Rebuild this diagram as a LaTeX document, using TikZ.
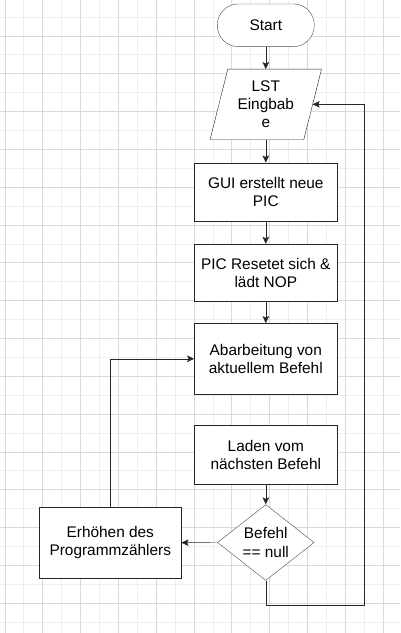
\documentclass[tikz,border=0pt]{standalone}
\usepackage{fontspec}
\setmainfont{Liberation Sans}
\usetikzlibrary{shapes.geometric,arrows.meta,backgrounds}
\definecolor{gridmajor}{HTML}{D9D9D9}
\definecolor{gridminor}{HTML}{EEEEEE}
\tikzset{
  fctext/.style={align=center, font=\fontsize{15.4}{18.3}\selectfont, inner sep=0pt},
  fcbox/.style={fctext, rectangle, draw=black!85, fill=white, minimum width=143pt},
  fcstart/.style={fctext, rectangle, rounded corners=21pt, draw=black!70, fill=white, minimum width=97pt, minimum height=42.7pt},
  fcdecision/.style={fctext, diamond, draw=black!70, fill=white, minimum width=96.6pt, minimum height=68.4pt},
  fcflow/.style={draw=black!85, -{Stealth[length=7pt,width=6.5pt,inset=1.5pt]}},
}
\newcommand{\fcprocessnode}[4] {\node at (#1) (#2) [fcbox, minimum height=#3] {#4};}
\newcommand{\fcflowline}[2] {\draw [fcflow] (#1) -- (#2);}

\begin{document}
\begin{tikzpicture}[x=1pt, y=-1pt]
\useasboundingbox (0,0) rectangle (400,633);

% grid
\begin{scope}[on background layer]
\fill [white] (0,0) rectangle (400,633);
\foreach \gx in {23.91,61.73,...,400} \draw [gridminor, line width=1pt] (\gx,0) -- (\gx,633);
\foreach \gy in {17.1,54.92,...,633} \draw [gridminor, line width=1pt] (0,\gy) -- (400,\gy);
\foreach \gx in {5,42.82,...,400} \draw [gridmajor, line width=1pt] (\gx,0) -- (\gx,633);
\foreach \gy in {36,73.82,...,633} \draw [gridmajor, line width=1pt] (0,\gy) -- (400,\gy);
\end{scope}

\node at (265.8,25.3) (start) [fcstart] {Start};
\node at (265.8,104.3) (lst) [fctext, minimum width=93.3pt, minimum height=70pt] {LST\\Eingbab\\e};
\begin{scope}[on background layer]
\draw [draw=black!85, fill=white] ([xshift=8.85pt]lst.north west) -- ([xshift=8.85pt]lst.north east)
  -- ([xshift=-8.85pt]lst.south east) -- ([xshift=-8.85pt]lst.south west) -- cycle;
\end{scope}

\fcprocessnode {265.8,191.7} {gui} {58pt} {GUI erstellt neue\\PIC};
\fcprocessnode {265.8,272.7} {pic} {57.3pt} {PIC Resetet sich \&\\lädt NOP};
\fcprocessnode {265.8,358.8} {abar} {71pt} {Abarbeitung von\\aktuellem Befehl};
\fcprocessnode {265.8,454.8} {laden} {58.3pt} {Laden vom\\nächsten Befehl};
\node at (265.8,542.5) (null) [fcdecision] {Befehl\\== null};
\node at (110.3,542.7) (erh) [fcbox, minimum width=142pt, minimum height=70.7pt] {Erhöhen des\\Programmzählers};
\coordinate (loopturn) at (364.3,605);

\fcflowline {start}{lst};
\fcflowline {lst}{gui};
\fcflowline {gui}{pic};
\fcflowline {pic}{abar};
\fcflowline {laden}{null};
\fcflowline {null.west}{erh.east};
\draw [fcflow] (erh.north) |- (abar.west);
\draw [fcflow] (null.south) |- (loopturn) |- (lst.east);
\end{tikzpicture}
\end{document}
